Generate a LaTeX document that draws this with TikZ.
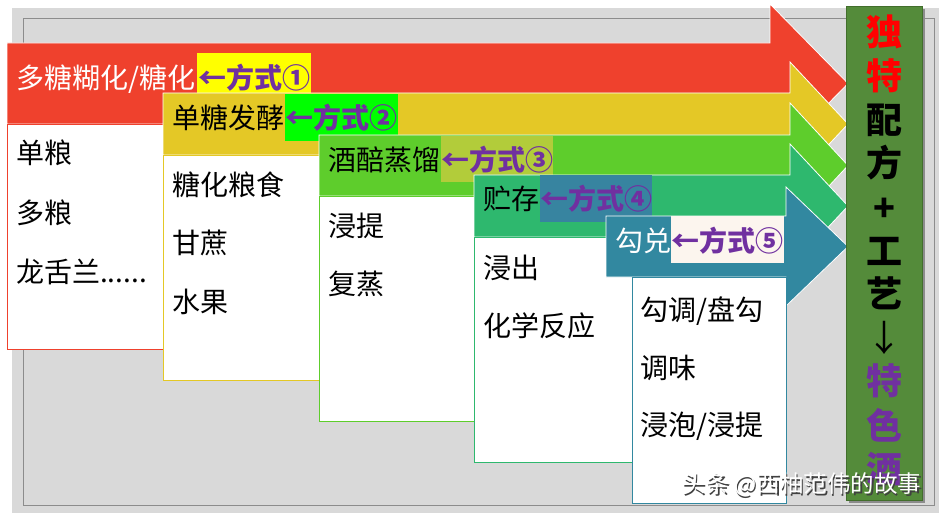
\documentclass[tikz,border=0pt]{standalone}
\usepackage{fontspec}
\newfontfamily\cjk{Noto Sans CJK SC}
\definecolor{cRed}{RGB}{239,65,45}
\definecolor{cYel}{RGB}{228,200,38}
\definecolor{cGrn}{RGB}{94,205,44}
\definecolor{cTeal}{RGB}{46,184,110}
\definecolor{cBlue}{RGB}{50,136,160}
\definecolor{cPanel}{RGB}{84,139,58}
\definecolor{cPanelD}{RGB}{66,110,44}
\definecolor{cPurp}{RGB}{112,48,160}
\definecolor{cHlA}{RGB}{255,255,0}
\definecolor{cHlB}{RGB}{0,255,0}
\definecolor{cHlC}{RGB}{178,204,58}
\definecolor{cHlD}{RGB}{55,132,160}
\definecolor{cHlE}{RGB}{252,245,238}
\definecolor{cBg}{RGB}{217,217,217}
\definecolor{cLine}{RGB}{140,140,140}
\begin{document}
\begin{tikzpicture}[x=1pt,y=-1pt,
  txt/.style={font=\cjk\fontsize{28}{28}\selectfont, inner sep=0pt, anchor=west, text height=24.6pt, text depth=3.4pt},
  way/.style={txt, font=\cjk\bfseries\fontsize{28}{28}\selectfont, text=cPurp},
  hlbox/.style={rectangle, inner sep=0pt, anchor=north west, draw=none},
  arrowband/.style={draw=white, line width=0.8pt},
  listbox/.style={fill=white, line width=0.8pt},
  vch/.style={font=\cjk\bfseries\fontsize{36}{36}\selectfont, inner sep=0pt, anchor=center, text height=31.7pt, text depth=4.3pt},
  wm/.style={font=\cjk\fontsize{23.5}{23.5}\selectfont, inner sep=0pt, anchor=west}
]
\useasboundingbox (0,0) rectangle (939,513);
% background
\fill[white] (0,0) rectangle (939,513);
\fill[cBg] (12,8) rectangle (939,513);
\draw[cLine, line width=0.8pt] (23,18) rectangle (934,505);

% arrow 1 (red)
\fill[cRed, arrowband] (7,43) -- (770,43) -- (770,4) -- (848,83.5) -- (770,163) -- (770,124) -- (7,124) -- cycle;
\draw[cRed, listbox] (7,124) rectangle (163,349);
\node[hlbox, fill=cHlA, minimum width=114pt, minimum height=40pt] (h1) at (197,53) {};
\node[txt, text=white] (t1) at (16,78) {多糖糊化/糖化};
\node[way] (w1) at (198,78) {←方式①};
\node[txt] (l11) at (16,153) {单粮};
\node[txt] (l12) at (16,213) {多粮};
\node[txt] (l13) at (16,272) {龙舌兰......};

% arrow 2 (yellow)
\fill[cYel, arrowband] (163,93) -- (790,93) -- (790,62) -- (848,124) -- (790,186) -- (790,155) -- (163,155) -- cycle;
\draw[cYel, listbox] (163,155) rectangle (319,380);
\node[hlbox, fill=cHlB, minimum width=113pt, minimum height=47pt] (h2) at (285,94) {};
\node[txt] (t2) at (172,118) {单糖发酵};
\node[way] (w2) at (285,118) {←方式②};
\node[txt] (l21) at (172,185) {糖化粮食};
\node[txt] (l22) at (172,243) {甘蔗};
\node[txt] (l23) at (172,302) {水果};

% arrow 3 (green)
\fill[cGrn, arrowband] (319,135) -- (790,135) -- (790,103) -- (848,165.5) -- (790,228) -- (790,196) -- (319,196) -- cycle;
\draw[cGrn, listbox] (319,196) rectangle (474,421);
\node[hlbox, fill=cHlC, minimum width=112pt, minimum height=46pt] (h3) at (441,136) {};
\node[txt] (t3) at (328,160) {酒醅蒸馏};
\node[way] (w3) at (441,160) {←方式③};
\node[txt] (l31) at (328,226) {浸提};
\node[txt] (l32) at (328,284) {复蒸};

% arrow 4 (teal)
\fill[cTeal, arrowband] (474,175) -- (790,175) -- (790,144) -- (848,206) -- (790,268) -- (790,237) -- (474,237) -- cycle;
\draw[cTeal, listbox] (474,237) rectangle (632,462);
\node[hlbox, fill=cHlD, minimum width=112pt, minimum height=47pt] (h4) at (540,175) {};
\node[txt] (t4) at (483,199) {贮存};
\node[way] (w4) at (540,199) {←方式④};
\node[txt] (l41) at (483,268) {浸出};
\node[txt] (l42) at (483,326) {化学反应};

% arrow 5 (blue)
\fill[cBlue, arrowband] (606,216) -- (786,216) -- (786,187) -- (848,246.5) -- (786,306) -- (786,277) -- (606,277) -- cycle;
\draw[cBlue, listbox] (632,277) rectangle (786,503);
\node[hlbox, fill=cHlE, minimum width=113pt, minimum height=47pt] (h5) at (671,216) {};
\node[txt, text=white] (t5) at (615,241) {勾兑};
\node[way] (w5) at (671,241) {←方式⑤};
\node[txt] (l51) at (640,310) {勾调/盘勾};
\node[txt] (l52) at (640,368) {调味};
\node[txt] (l53) at (640,425) {浸泡/浸提};

% right panel
\fill[black!45] (849,9) rectangle (925,503);
\draw[cPanelD, fill=cPanel, line width=0.8pt] (846,6) rectangle (922,500);
\node[vch, text=red] (p1) at (884,32) {独};
\node[vch, text=red] (p2) at (884,76) {特};
\node[vch] (p3) at (884,120) {配};
\node[vch] (p4) at (884,163) {方};
\node[vch] (p5) at (884,208) {+};
\node[vch] (p6) at (884,251) {工};
\node[vch] (p7) at (884,294) {艺};
\node[vch, font=\cjk\fontsize{36}{36}\selectfont] (p8) at (884,338) {↓};
\node[vch, text=cPurp] (p9) at (884,381) {特};
\node[vch, text=cPurp] (p10) at (884,426) {色};
\node[vch, text=cPurp] (p11) at (884,469) {酒};

% watermark
\node[wm, text=black!75] (wms) at (683.5,486.5) {头条 @西柚范伟的故事};
\node[wm, text=white] (wmt) at (682,485) {头条 @西柚范伟的故事};
\end{tikzpicture}
\end{document}
